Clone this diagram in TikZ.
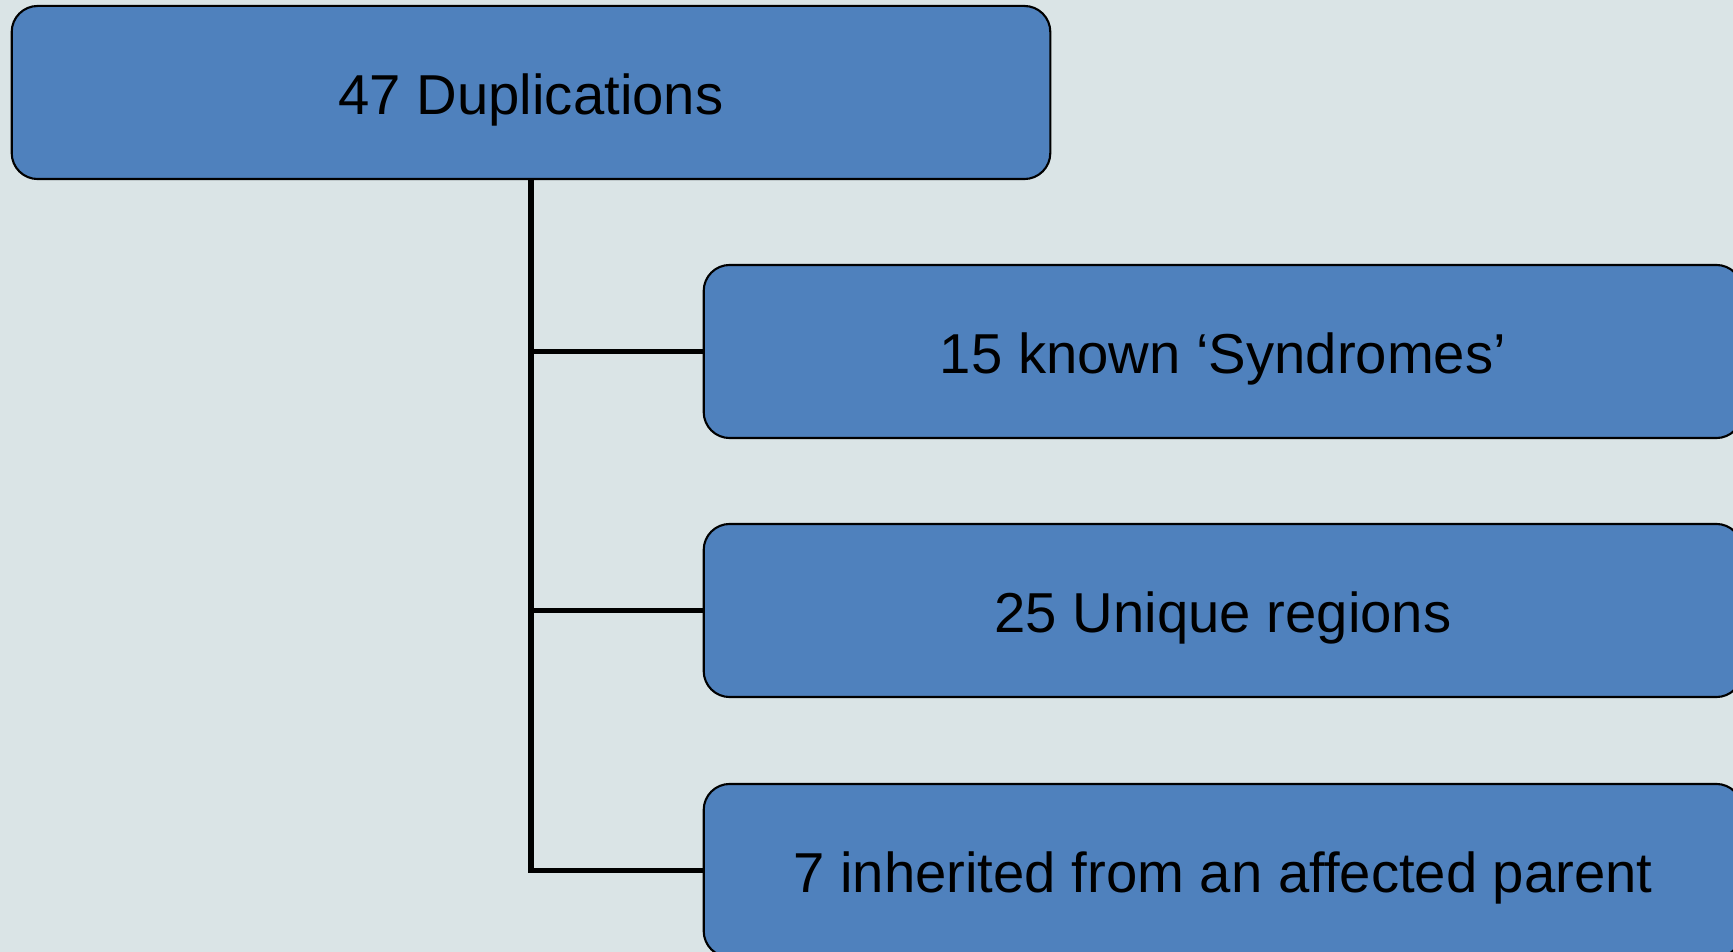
\documentclass[tikz,border=0pt]{standalone}
\usepackage{fontspec}
\setmainfont{Liberation Sans}
\usepackage{tikz}
\usetikzlibrary{positioning}
\definecolor{bgpale}{RGB}{218,228,230}
\definecolor{boxblue}{RGB}{79,129,189}
\tikzset{
    item/.style={
        draw=black,
        fill=boxblue,
        rectangle,
        rounded corners=0.26cm,
        line width=0.6pt,
        minimum width=10.38cm,
        minimum height=1.73cm,
        inner sep=0pt,
        text height=12.4pt,
        text depth=0pt,
        font=\fontsize{16pt}{19pt}\selectfont
    },
    branch/.style={
        draw=black,
        line width=1.7pt
    }
}

\begin{document}
\begin{tikzpicture}[x=0.01cm, y=-0.01cm]
    % Background
    \path[use as bounding box] (0,0) rectangle (1733,952);
    \clip (0,0) rectangle (1733,952);
    \fill[bgpale] (0,0) rectangle (1733,952);

    % Boxes
    \node[item] (dup) at (531,92.5) {47 Duplications};
    \node[item] (syn) at (1223,351.5) {15 known ‘Syndromes’};
    \node[item] (uniq) at (1223,610.5) {25 Unique regions};
    \node[item] (inh) at (1223,870.5) {7 inherited from an affected parent};

    % Edges
    \draw[branch] (dup.south) |- (syn.west);
    \draw[branch] (dup.south) |- (uniq.west);
    \draw[branch] (dup.south) |- (inh.west);
\end{tikzpicture}
\end{document}
